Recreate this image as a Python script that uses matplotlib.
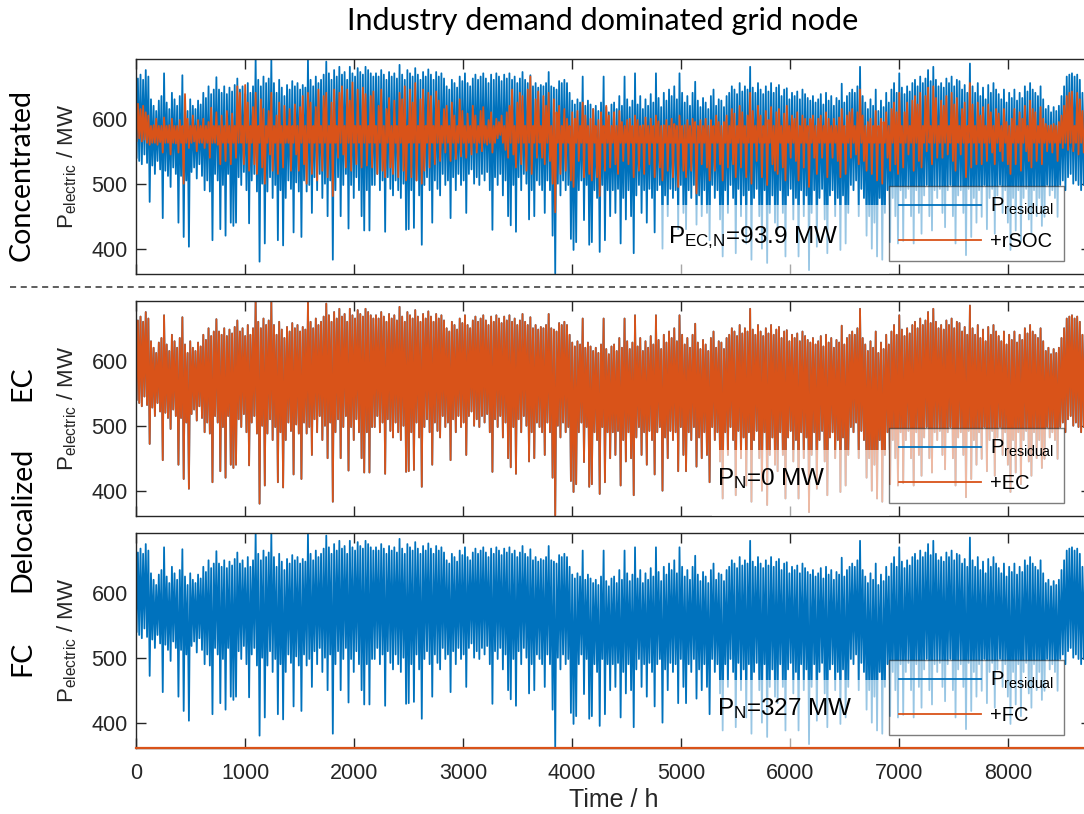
import numpy as np
import matplotlib.pyplot as plt
from matplotlib.patches import Rectangle
from matplotlib.lines import Line2D

plt.rcParams['font.family'] = 'Liberation Sans'
plt.rcParams['mathtext.fontset'] = 'custom'
plt.rcParams['mathtext.rm'] = 'Liberation Sans'
plt.rcParams['mathtext.it'] = 'Liberation Sans'

# daily maxima / minima of the residual load in MW (day 0 ... 364)
res_hi = [
    662, 668, 660, 675, 665, 630, 620, 612, 628, 635, 670, 625, 615, 640,
    630, 620, 635, 667, 625, 612, 630, 620, 615, 628, 622, 640, 632, 650,
    638, 645, 664, 645, 640, 650, 638, 648, 642, 652, 662, 645, 650, 638,
    655, 640, 650, 692, 660, 650, 665, 655, 662, 690, 655, 640, 660, 648,
    635, 652, 645, 658, 650, 655, 645, 652, 648, 690, 660, 650, 665, 655,
    660, 668, 688, 670, 660, 675, 665, 680, 668, 672, 660, 680, 670, 665,
    678, 672, 668, 680, 675, 670, 665,
    670, 665, 675, 668, 660, 672, 665, 670, 662, 683, 668, 660, 675, 670,
    665, 678, 668, 660, 672, 665, 676, 668, 660, 672, 665, 670, 662, 650,
    645, 660, 655, 648, 665, 658, 670, 655, 650, 662, 668, 660, 665, 670,
    662, 655, 668, 660, 670, 665, 658, 668, 662, 670, 660, 665, 655, 662,
    672, 660, 655, 667, 650, 655, 648, 652, 650, 655, 672, 650, 648, 645,
    658, 655, 660, 655, 640, 628, 622, 630, 625, 665, 620, 628, 622, 615,
    620, 612, 625, 665, 618, 610, 622,
    625, 615, 635, 620, 665, 630, 618, 628, 670, 622, 635, 615, 630, 620,
    638, 625, 670, 632, 618, 640, 628, 645, 635, 650, 630, 670, 640, 625,
    635, 620, 640, 657, 628, 618, 632, 625, 615, 635, 645, 620, 630, 628,
    618, 635, 640, 650, 645, 638, 655, 642, 650, 645, 680, 648, 640, 655,
    645, 638, 650, 642, 655, 640, 648, 652, 635, 645, 647, 630, 640, 635,
    642, 630, 645, 638, 632, 628, 635, 625, 630, 638, 622, 640, 628, 635,
    620, 632, 628, 654, 625, 635, 640,
    645, 640, 650, 680, 635, 625, 615, 630, 620, 645, 612, 628, 618, 640,
    625, 645, 655, 640, 670, 648, 638, 650, 642, 655, 660, 650, 665, 655,
    662, 675, 658, 680, 660, 650, 655, 648, 662, 655, 665, 650, 660, 658,
    645, 652, 640, 685, 650, 640, 655, 635, 648, 630, 652, 640, 655, 645,
    638, 630, 645, 625, 640, 632, 645, 628, 640, 632, 650, 642, 655, 645,
    640, 635, 650, 630, 615, 620, 610, 618, 612, 620, 635, 650, 665, 668,
    670, 665, 668, 660, 640, 650, 655, 645,
]
res_lo = [
    540, 535, 530, 545, 532, 472, 528, 515, 535, 522, 447, 520, 512, 495,
    525, 515, 440, 512, 418, 505, 403, 518, 525, 508, 530, 512, 490, 505,
    488, 413, 515, 505, 430, 498, 420, 515, 440, 435, 440, 510, 498, 518,
    490, 439, 505, 515, 488, 380, 500, 408, 488, 510, 478, 498, 413, 490,
    405, 478, 505, 492, 425, 502, 488, 418, 505, 488, 498, 455, 510, 490,
    515, 478, 500, 450, 505, 383, 490, 510, 450, 498, 515, 431, 498, 478,
    510, 490, 450, 428, 490, 428, 498,
    498, 515, 490, 505, 426, 510, 492, 482, 505, 490, 478, 500, 429, 430,
    490, 432, 505, 482, 406, 498, 510, 490, 440, 505, 492, 482, 515, 498,
    505, 447, 510, 490, 515, 498, 505, 455, 515, 522, 500, 510, 498, 515,
    505, 518, 490, 429, 510, 498, 515, 482, 505, 450, 436, 498, 426, 510,
    490, 515, 500, 445, 490, 450, 505, 498, 490, 455, 505, 490, 420, 362,
    500, 482, 505, 490, 498, 415, 398, 410, 490, 505, 444, 498, 406, 410,
    490, 478, 395, 498, 413, 490, 450,
    490, 455, 492, 408, 478, 445, 490, 450, 393, 482, 498, 455, 490, 440,
    492, 478, 425, 490, 498, 400, 482, 450, 492, 478, 490, 430, 498, 455,
    430, 490, 478, 498, 437, 482, 450, 490, 455, 413, 498, 478, 490, 445,
    388, 490, 455, 498, 478, 393, 492, 450, 482, 408, 490, 383, 478, 492,
    450, 400, 490, 378, 455, 482, 440, 430, 490, 455, 388, 482, 492, 445,
    478, 388, 490, 450, 482, 367, 455, 490, 403, 478, 492, 445, 393, 482,
    490, 450, 478, 398, 482, 408, 455,
    498, 490, 505, 450, 492, 478, 420, 450, 400, 440, 388, 478, 383, 455,
    490, 410, 478, 450, 408, 490, 412, 478, 492, 450, 408, 490, 455, 423,
    482, 498, 450, 428, 490, 478, 492, 455, 433, 490, 498, 450, 408, 482,
    490, 455, 390, 492, 418, 478, 440, 490, 449, 498, 430, 478, 492, 423,
    482, 498, 455, 490, 440, 398, 478, 428, 490, 410, 478, 492, 445, 423,
    490, 450, 478, 435, 449, 498, 482, 490, 478, 449, 498, 505, 490, 510,
    515, 500, 505, 498, 490, 498, 505, 490,
]

# daily maxima / minima with the reversible SOC unit (P_EC,N = 93.9 MW)
rsoc_hi = [
    623, 615, 620, 610, 605, 589, 590, 600, 589, 589, 602, 589, 590, 600,
    589, 589, 598, 589, 638, 600, 589, 605, 589, 598, 589, 600, 589, 595,
    617, 589, 610, 589, 605, 589, 612, 589, 608, 589, 650, 640, 589, 652,
    625, 589, 618, 640, 589, 630, 615, 589, 612, 640, 589, 605, 625, 589,
    620, 589, 615, 589, 622, 589, 618, 635, 589, 640, 625, 589, 618, 645,
    589, 635, 640, 589, 625, 645, 589, 640, 650, 589, 645, 628, 656, 589,
    645, 589, 648, 638, 589, 635, 642,
    589, 620, 645, 589, 615, 632, 589, 628, 589, 640, 630, 650, 589, 645,
    625, 655, 589, 630, 645, 589, 640, 635, 589, 642, 628, 589, 615, 620,
    589, 625, 605, 589, 630, 612, 589, 608, 589, 620, 605, 589, 612, 618,
    589, 598, 610, 589, 600, 595, 605, 589, 610, 620, 645, 589, 625, 640,
    635, 589, 645, 665, 589, 630, 642, 589, 635, 620, 640, 589, 630, 610,
    620, 589, 615, 600, 589, 610, 600, 612, 589, 625, 605, 589, 600, 615,
    589, 598, 610, 589, 620, 605, 589,
    610, 589, 612, 595, 589, 598, 600, 589, 605, 598, 589, 590, 602, 589,
    600, 589, 605, 596, 589, 590, 598, 589, 600, 592, 589, 605, 589, 590,
    598, 589, 600, 595, 589, 598, 589, 600, 589, 598, 589, 605, 595, 589,
    595, 605, 589, 615, 608, 589, 620, 610, 589, 605, 640, 612, 589, 620,
    605, 589, 612, 598, 618, 589, 610, 615, 589, 608, 620, 589, 605, 600,
    610, 589, 605, 600, 589, 600, 605, 589, 600, 605, 589, 610, 600, 589,
    600, 589, 602, 615, 589, 605, 610,
    615, 589, 610, 645, 605, 589, 595, 600, 589, 612, 589, 600, 595, 610,
    589, 615, 625, 610, 640, 589, 610, 625, 589, 628, 635, 622, 640, 589,
    635, 648, 589, 650, 632, 589, 628, 620, 635, 589, 640, 622, 632, 589,
    615, 625, 589, 655, 622, 589, 625, 605, 618, 589, 622, 610, 589, 615,
    608, 589, 615, 595, 589, 600, 615, 589, 610, 600, 620, 589, 628, 615,
    610, 589, 618, 600, 592, 589, 590, 592, 589, 595, 605, 620, 635, 640,
    642, 589, 640, 630, 612, 589, 625, 615,
]
rsoc_lo = [
    566, 570, 565, 568, 563, 560, 563, 563, 560, 564, 548, 563, 563, 545,
    563, 562, 548, 563, 500, 563, 555, 563, 565, 550, 563, 563, 555, 563,
    540, 563, 563, 560, 530, 563, 535, 563, 530, 563, 540, 563, 563, 530,
    563, 520, 563, 530, 515, 563, 525, 500, 563, 545, 520, 563, 515, 563,
    525, 563, 563, 520, 563, 545, 520, 563, 530, 500, 563, 515, 563, 505,
    563, 520, 563, 510, 563, 481, 563, 540, 563, 545, 525, 563, 520, 563,
    530, 563, 525, 563, 528, 563, 525,
    563, 515, 563, 520, 510, 563, 525, 515, 563, 510, 563, 520, 505, 563,
    510, 563, 505, 563, 500, 520, 563, 525, 563, 530, 563, 535, 563, 548,
    563, 535, 563, 538, 563, 542, 563, 540, 563, 545, 563, 548, 563, 550,
    563, 560, 563, 548, 563, 570, 575, 563, 552, 540, 563, 545, 525, 563,
    530, 563, 520, 563, 515, 563, 540, 563, 540, 530, 563, 535, 500, 456,
    563, 515, 563, 520, 563, 505, 495, 563, 535, 563, 510, 563, 515, 505,
    563, 510, 481, 563, 520, 563, 525,
    563, 530, 515, 563, 535, 563, 530, 563, 510, 563, 520, 563, 515, 563,
    530, 563, 510, 563, 525, 505, 563, 520, 563, 510, 563, 495, 563, 520,
    510, 563, 520, 563, 485, 563, 530, 563, 525, 505, 563, 520, 563, 530,
    505, 563, 525, 563, 530, 510, 563, 525, 563, 510, 563, 500, 563, 535,
    563, 510, 563, 498, 563, 530, 520, 515, 563, 525, 505, 563, 540, 563,
    535, 505, 563, 525, 563, 495, 563, 540, 515, 563, 540, 563, 510, 563,
    540, 563, 535, 510, 563, 515, 563,
    540, 563, 545, 530, 563, 535, 520, 563, 515, 563, 505, 563, 500, 563,
    540, 520, 563, 530, 515, 563, 525, 563, 545, 563, 520, 563, 535, 525,
    563, 550, 563, 530, 563, 540, 563, 540, 563, 545, 563, 535, 520, 563,
    545, 563, 510, 563, 525, 563, 530, 563, 530, 563, 535, 563, 548, 530,
    563, 550, 535, 563, 530, 515, 563, 530, 563, 520, 563, 550, 535, 525,
    563, 535, 563, 530, 563, 550, 563, 548, 563, 535, 563, 555, 563, 552,
    563, 550, 563, 545, 563, 548, 563, 545,
]

# nominal EC power is 0 MW, so the +EC curve equals the residual load
ec_hi, ec_lo = res_hi, res_lo
# the +FC curve lies at the lower end of the plotted range
fc_level = 361.0

y_lim = (361, 692)
blue = '#0072BD'
orange = '#D95319'
dark = '#262626'
lw = 1.3


def day_curve(lo, hi):
    n = min(len(lo), len(hi))
    d = np.arange(n)
    t = np.column_stack([d * 24 + 5, d * 24 + 17]).ravel()
    v = np.column_stack([lo[:n], hi[:n]]).ravel()
    return t, v


fig = plt.figure(figsize=(10.84, 8.14), dpi=100)
ax1 = fig.add_axes([0.1255, 0.6634, 0.881, 0.2641])
ax2 = fig.add_axes([0.1255, 0.3661, 0.881, 0.2641])
ax3 = fig.add_axes([0.1255, 0.0811, 0.881, 0.2641])

res_label = r'$\mathregular{P_{residual}}$'
t, v = day_curve(res_lo, res_hi)
ax1.plot(t, v, color=blue, lw=lw, label=res_label)
t2, v2 = day_curve(rsoc_lo, rsoc_hi)
ax1.plot(t2, v2, color=orange, lw=lw, label='+rSOC')

ax2.plot(t, v, color=blue, lw=lw, label=res_label)
t3, v3 = day_curve(ec_lo, ec_hi)
ax2.plot(t3, v3, color=orange, lw=lw, label='+EC')

ax3.plot(t, v, color=blue, lw=lw, label=res_label)
ax3.plot([0, 8760], [fc_level, fc_level], color=orange, lw=1.6,
         clip_on=False, zorder=5, label='+FC')

notes = [r'$\mathregular{P_{EC{,}N}}$=93.9 MW', r'$\mathregular{P_N}$=0 MW',
         r'$\mathregular{P_N}$=327 MW']
note_pos = [(0.557, 0.144), (0.608, 0.142), (0.608, 0.153)]
box_x = [0.549, 0.603, 0.603]
box_top = [0.32, 0.307, 0.316]

for i, ax in enumerate([ax1, ax2, ax3]):
    ax.set_xlim(0, 8760)
    ax.set_ylim(*y_lim)
    ax.set_xticks(np.arange(0, 8001, 1000))
    ax.set_yticks([400, 500, 600])
    ax.tick_params(direction='in', length=7, width=1.0, top=True, right=True,
                   labelsize=15.5, colors=dark)
    ax.tick_params(axis='y', pad=6)
    ax.tick_params(axis='x', pad=11)
    for s in ax.spines.values():
        s.set_color(dark)
        s.set_linewidth(1.0)
    if i < 2:
        ax.tick_params(labelbottom=False)
    ax.text(-0.072, 0.5, r'$\mathregular{P_{electric}}$ / MW', rotation=90,
            ha='center', va='center', fontsize=16, color=dark,
            transform=ax.transAxes)
    ax.add_patch(Rectangle((box_x[i], 0), 0.788 - box_x[i], box_top[i],
                           transform=ax.transAxes, facecolor='white',
                           alpha=0.6, edgecolor='none', zorder=3))
    ax.text(note_pos[i][0], note_pos[i][1], notes[i], fontsize=17.5,
            color='black', va='baseline', transform=ax.transAxes, zorder=4)
    leg = ax.legend(loc='lower left', bbox_to_anchor=(0.788, 0.06),
                    borderaxespad=0, fontsize=14.5, handlelength=4.1,
                    fancybox=False, framealpha=0.6, edgecolor=dark,
                    borderpad=0.5, labelspacing=0.75, handletextpad=0.45)
    leg.get_frame().set_linewidth(1.0)
    for h in leg.get_lines():
        h.set_linewidth(1.3)
    leg.set_zorder(6)

ax3.set_xlabel('Time / h', fontsize=18, color=dark, labelpad=3)

side = dict(rotation=90, ha='center', va='center', fontsize=20.5,
            family='Lato', color='black')
fig.text(22 / 1084, 1 - 175 / 814, 'Concentrated', **side)
fig.text(22 / 1084, 1 - 383 / 814, 'EC', **side)
fig.text(22 / 1084, 1 - 519 / 814, 'Delocalized', **side)
fig.text(22 / 1084, 1 - 658 / 814, 'FC', **side)
fig.text(603 / 1084, 1 - 21 / 814, 'Industry demand dominated grid node',
         ha='center', va='center', fontsize=22, family='Lato', color='black')

fig.add_artist(Line2D([10 / 1084, 1.0], [1 - 287 / 814, 1 - 287 / 814],
                      transform=fig.transFigure, color='#333333', lw=1.1,
                      ls=(0, (4, 3))))

fig.savefig('out.png', dpi=100)
